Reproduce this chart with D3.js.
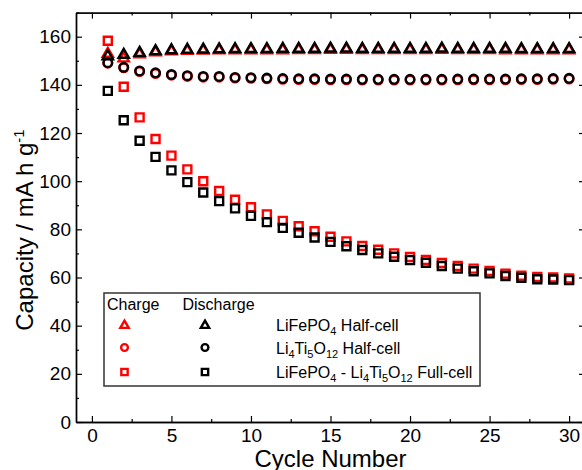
<!DOCTYPE html>
<html>
<head>
<meta charset="utf-8">
<script src="https://cdn.jsdelivr.net/npm/d3@7"></script>
<style>
  body { margin: 0; background: #fff; }
  svg { font-family: "Liberation Sans", Arial, sans-serif; }
</style>
</head>
<body>
<svg id="chart"></svg>
<script>
// cycle numbers
const cycles = [1, 2, 3, 4, 5, 6, 7, 8, 9, 10, 11, 12, 13, 14, 15,
  16, 17, 18, 19, 20, 21, 22, 23, 24, 25, 26, 27, 28, 29, 30];

// LiFePO4 half-cell
const lfpCharge = [153.3, 151.4, 153.1, 153.9, 154.3, 154.5, 154.6, 154.7, 154.7, 154.8,
  154.8, 154.8, 154.9, 154.9, 155.0, 155.0, 154.9, 154.9, 154.9, 154.9,
  154.9, 155.0, 154.9, 154.9, 154.9, 154.8, 154.8, 154.8, 154.8, 154.8];
const lfpDischarge = [152.3, 152.9, 153.7, 154.4, 154.8, 155.0, 155.1, 155.2, 155.3, 155.3,
  155.3, 155.4, 155.4, 155.4, 155.5, 155.5, 155.4, 155.4, 155.4, 155.4,
  155.4, 155.5, 155.4, 155.4, 155.4, 155.4, 155.3, 155.3, 155.3, 155.3];

// Li4Ti5O12 half-cell
const ltoCharge = [149.0, 147.1, 145.5, 144.7, 144.0, 143.5, 143.2, 143.2, 142.8, 142.7,
  142.5, 142.3, 142.2, 142.2, 142.1, 142.1, 142.0, 142.0, 142.0, 142.0,
  142.0, 142.0, 142.1, 142.1, 142.1, 142.1, 142.2, 142.2, 142.3, 142.4];
const ltoDischarge = [149.2, 147.3, 145.8, 145.0, 144.3, 143.8, 143.5, 143.5, 143.1, 143.0,
  142.8, 142.6, 142.5, 142.5, 142.4, 142.4, 142.3, 142.3, 142.3, 142.3,
  142.3, 142.3, 142.4, 142.4, 142.4, 142.4, 142.5, 142.5, 142.6, 142.7];

// LiFePO4 - Li4Ti5O12 full-cell
const fullCharge = [158.3, 139.2, 126.5, 117.5, 110.6, 104.9, 100.0, 95.9, 92.3, 89.2,
  86.2, 83.5, 81.3, 79.2, 76.9, 75.0, 73.1, 71.5, 70.0, 68.5,
  67.3, 66.0, 64.8, 63.7, 62.7, 61.6, 60.8, 60.2, 60.0, 59.6];
const fullDischarge = [137.5, 125.3, 116.8, 110.1, 104.5, 99.6, 95.3, 91.7, 88.7, 85.6,
  83.0, 80.6, 78.6, 76.6, 74.8, 73.0, 71.4, 70.0, 68.6, 67.2,
  66.1, 64.8, 63.7, 62.6, 61.7, 60.6, 59.9, 59.3, 59.2, 58.9];

// tick values
const xTicks = [0, 5, 10, 15, 20, 25, 30];
const xMinor = [2.5, 7.5, 12.5, 17.5, 22.5, 27.5];
const yTicks = [0, 20, 40, 60, 80, 100, 120, 140, 160];
const yMinor = [10, 30, 50, 70, 90, 110, 130, 150, 170];

const width = 582;
const height = 470;
const plotLeft = 76, plotRight = 585, plotTop = 12.6, plotBottom = 422;

const svg = d3.select("#chart").attr("width", width).attr("height", height);

const x = d3.scaleLinear().domain([-1, 31]).range([plotLeft, plotRight]);
const y = d3.scaleLinear().domain([0, 170]).range([plotBottom, plotTop]);

//series: [values, shape, color]
const series = [
  [lfpCharge, d3.symbolTriangle, "#ff0000"],
  [ltoCharge, d3.symbolCircle, "#ff0000"],
  [fullCharge, d3.symbolSquare, "#ff0000"],
  [lfpDischarge, d3.symbolTriangle, "#000"],
  [ltoDischarge, d3.symbolCircle, "#000"],
  [fullDischarge, d3.symbolSquare, "#000"]
];
const symSize = new Map([
  [d3.symbolTriangle, 46],
  [d3.symbolCircle, 58],
  [d3.symbolSquare, 64]
]);

series.forEach(([vals, shape, color]) => {
  svg.append("g")
    .selectAll("path")
    .data(cycles)
    .enter()
    .append("path")
    .attr("d", d3.symbol().type(shape).size(symSize.get(shape)))
    .attr("transform", (d, i) => `translate(${x(d)},${y(vals[i]) + (shape === d3.symbolTriangle ? 1 : 0)})`)
    .attr("fill", "none")
    .attr("stroke", color)
    .attr("stroke-width", 2.4);
});

//axes
function styleAxis(g) {
  g.selectAll(".domain").attr("stroke", "#000").attr("stroke-width", 1.4);
  g.selectAll(".tick line").attr("stroke", "#000").attr("stroke-width", 1.2);
  g.selectAll(".tick text").attr("fill", "#000").style("font-size", "19px");
}

svg.append("g")
  .attr("transform", `translate(0,${plotBottom})`)
  .call(d3.axisBottom(x).tickValues(xTicks).tickSizeInner(-6).tickSizeOuter(0).tickPadding(7))
  .call(styleAxis);
svg.append("g")
  .attr("transform", `translate(0,${plotBottom})`)
  .call(d3.axisBottom(x).tickValues(xMinor).tickSizeInner(-3).tickSizeOuter(0).tickFormat(""))
  .call(styleAxis);
svg.append("g")
  .attr("transform", `translate(0,${plotTop})`)
  .call(d3.axisTop(x).tickValues(xTicks).tickSizeInner(-6).tickSizeOuter(0).tickFormat(""))
  .call(styleAxis);
svg.append("g")
  .attr("transform", `translate(0,${plotTop})`)
  .call(d3.axisTop(x).tickValues(xMinor).tickSizeInner(-3).tickSizeOuter(0).tickFormat(""))
  .call(styleAxis);

svg.append("g")
  .attr("transform", `translate(${plotLeft},0)`)
  .call(d3.axisLeft(y).tickValues(yTicks).tickSizeInner(-6).tickSizeOuter(0).tickPadding(5))
  .call(styleAxis);
svg.append("g")
  .attr("transform", `translate(${plotLeft},0)`)
  .call(d3.axisLeft(y).tickValues(yMinor).tickSizeInner(-3).tickSizeOuter(0).tickFormat(""))
  .call(styleAxis);
svg.append("g")
  .attr("transform", `translate(${plotRight},0)`)
  .call(d3.axisRight(y).tickValues(yTicks).tickSizeInner(-6).tickSizeOuter(0).tickFormat(""))
  .call(styleAxis);
svg.append("g")
  .attr("transform", `translate(${plotRight},0)`)
  .call(d3.axisRight(y).tickValues(yMinor).tickSizeInner(-3).tickSizeOuter(0).tickFormat(""))
  .call(styleAxis);

//axis titles
svg.append("text")
  .attr("x", (plotLeft + 569) / 2 + 8)
  .attr("y", 467)
  .attr("text-anchor", "middle")
  .style("font-size", "24px")
  .text("Cycle Number");

const yTitle = svg.append("text")
  .attr("transform", "translate(33,230) rotate(-90)")
  .attr("text-anchor", "middle")
  .style("font-size", "24px");
yTitle.append("tspan").text("Capacity / mA h g");
yTitle.append("tspan").attr("dy", -9).style("font-size", "15px").text("-1");

//legend
const legend = svg.append("g");
legend.append("rect")
  .attr("x", 104).attr("y", 293)
  .attr("width", 376).attr("height", 93)
  .attr("fill", "#fff")
  .attr("stroke", "#333")
  .attr("stroke-width", 1.5);
legend.append("text").attr("x", 107).attr("y", 310).style("font-size", "16px").text("Charge");
legend.append("text").attr("x", 182.5).attr("y", 310).style("font-size", "16px").text("Discharge");

const legendShapes = [d3.symbolTriangle, d3.symbolCircle, d3.symbolSquare];
const legendSize = new Map([
  [d3.symbolTriangle, 30],
  [d3.symbolCircle, 36],
  [d3.symbolSquare, 40]
]);
const rowY = [324.5, 347.5, 372];

legendShapes.forEach((shape, i) => {
  [[124.5, "#ff0000"], [205, "#000"]].forEach(([lx, color]) => {
    legend.append("path")
      .attr("d", d3.symbol().type(shape).size(legendSize.get(shape)))
      .attr("transform", `translate(${lx},${rowY[i] + (shape === d3.symbolTriangle ? 1 : 0)})`)
      .attr("fill", "none")
      .attr("stroke", color)
      .attr("stroke-width", 2.4);
  });
});

// label parts: [text, isSubscript]
const legendLabels = [
  [["LiFePO", 0], ["4", 1], [" Half-cell", 0]],
  [["Li", 0], ["4", 1], ["Ti", 0], ["5", 1], ["O", 0], ["12", 1], [" Half-cell", 0]],
  [["LiFePO", 0], ["4", 1], [" - Li", 0], ["4", 1], ["Ti", 0], ["5", 1], ["O", 0], ["12", 1], [" Full-cell", 0]]
];

legendLabels.forEach((parts, i) => {
  const t = legend.append("text")
    .attr("x", 276)
    .attr("y", rowY[i] + 6)
    .style("font-size", "16px");
  let sub = false;
  parts.forEach(([s, isSub]) => {
    const ts = t.append("tspan").text(s);
    if (isSub && !sub) ts.attr("dy", 4).style("font-size", "11px");
    else if (!isSub && sub) ts.attr("dy", -4);
    else if (isSub) ts.style("font-size", "11px");
    sub = !!isSub;
  });
});
</script>
</body>
</html>
